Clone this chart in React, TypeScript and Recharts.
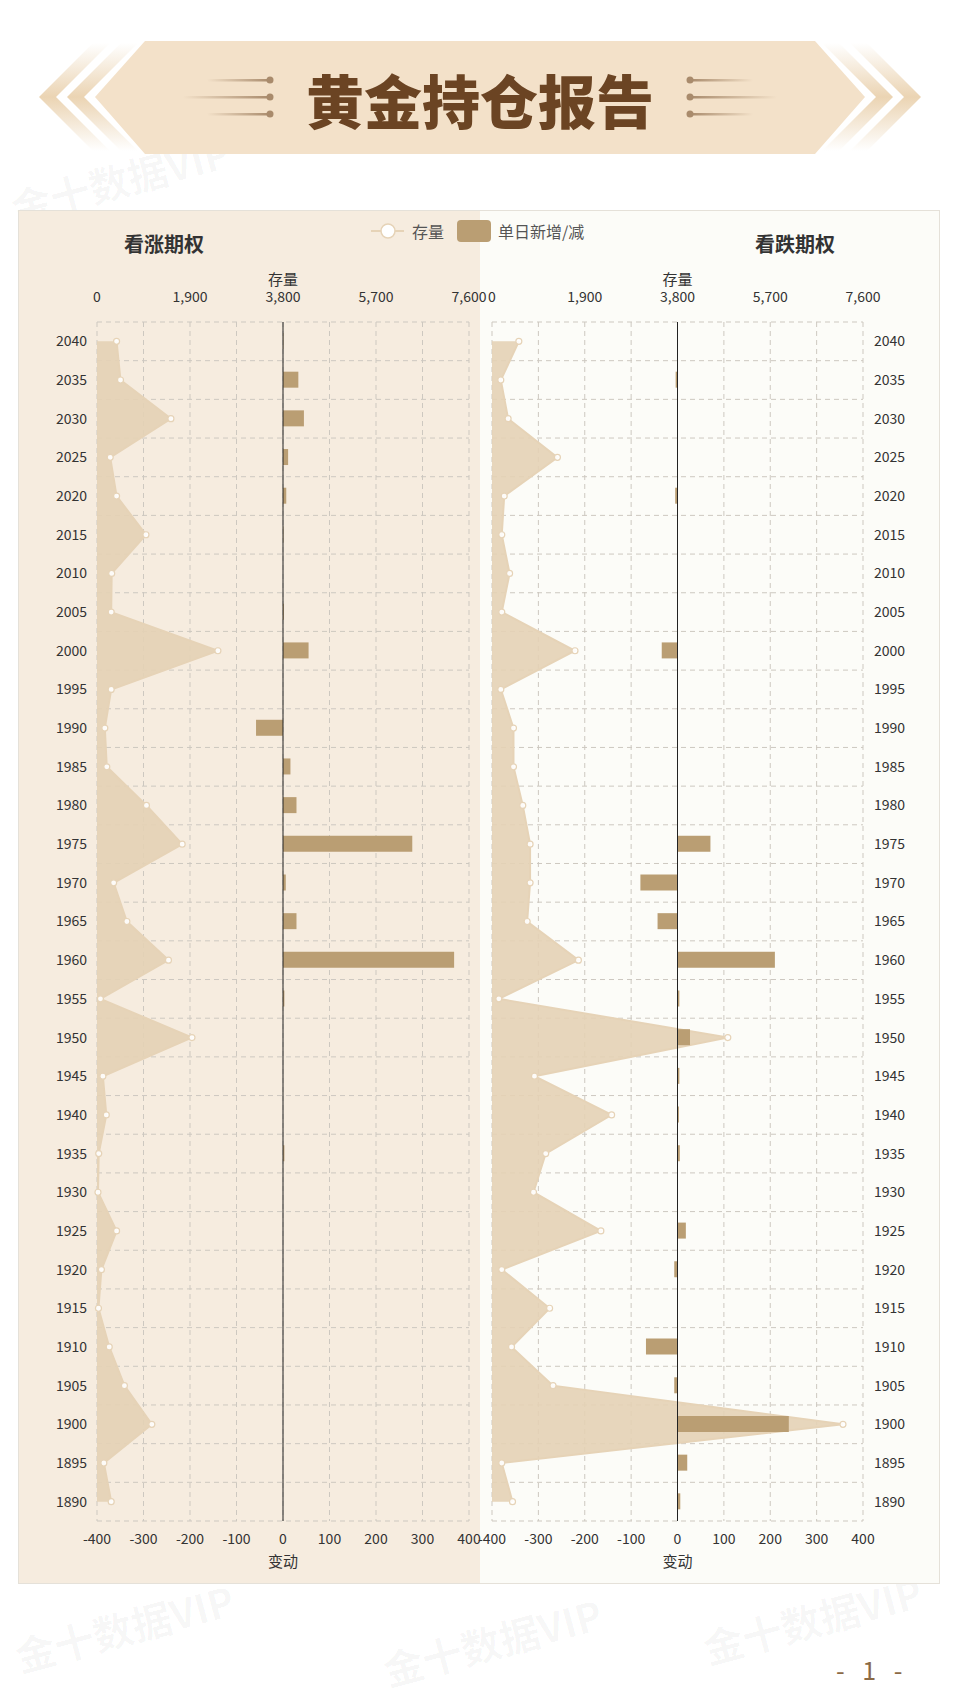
import React from 'react';
import {
  ComposedChart,
  Area,
  Bar,
  XAxis,
  YAxis,
  CartesianGrid,
  ReferenceLine,
} from 'recharts';

// categories, top to bottom
const years = [
  '2040', '2035', '2030', '2025', '2020', '2015', '2010', '2005', '2000', '1995',
  '1990', '1985', '1980', '1975', '1970', '1965', '1960', '1955', '1950', '1945',
  '1940', '1935', '1930', '1925', '1920', '1915', '1910', '1905', '1900', '1895', '1890',
];

// 看涨期权
const callStock = [
  400, 480, 1510, 270, 400, 1000, 300, 290, 2470, 290,
  160, 200, 1010, 1740, 340, 610, 1460, 70, 1940, 120,
  190, 35, 20, 400, 90, 30, 250, 560, 1120, 140, 290,
];
const callChange = [
  1, 33, 45, 11, 7, 1, 0, 2, 55, 0,
  -58, 16, 29, 278, 6, 29, 368, 3, 0, 0,
  0, 3, 0, 0, 0, 0, 0, 0, 0, 0, 0,
];

// 看跌期权
const putStock = [
  550, 180, 330, 1340, 250, 200, 360, 200, 1700, 180,
  440, 440, 630, 780, 780, 720, 1770, 140, 4830, 870,
  2450, 1100, 850, 2230, 200, 1180, 400, 1250, 7190, 200, 420,
];
const putChange = [
  0, -4, 0, 0, -5, -1, 0, 1, -34, 0,
  -1, 0, -1, 71, -80, -43, 210, 4, 27, 4,
  3, 5, 0, 18, -7, -1, -68, -7, 240, 21, 6,
];

const stockTicks = [0, 1900, 3800, 5700, 7600];
const changeTicks = [-400, -300, -200, -100, 0, 100, 200, 300, 400];

const FONT = '"Noto Sans CJK SC", "Noto Sans", sans-serif';
const BAR_COLOR = '#BA9E73';
const AREA_FILL = '#E4D1B5';
const AREA_LINE = '#E6D3B7';
const GRID = '#CDC8C0';
const TEXT = '#333';

const callData = years.map((year, i) => ({ year, stock: callStock[i], change: callChange[i] }));
const putData = years.map((year, i) => ({ year, stock: putStock[i], change: putChange[i] }));

// grid rows sit on the band edges, not on the band centres
const bandEdges = ({ offset }: any) => {
  const n = years.length;
  const out: number[] = [];
  for (let i = 0; i <= n; i++) out.push(offset.top + (offset.height * i) / n);
  return out;
};

function OptionChart({ data, side }: { data: any[]; side: 'left' | 'right' }) {
  const isLeft = side === 'left';
  return (
    <ComposedChart
      layout="vertical"
      width={isLeft ? 462 : 460}
      height={1374}
      data={data}
      margin={{ top: 52, right: isLeft ? 11 : 0, bottom: 0, left: isLeft ? 0 : 12 }}
    >
      <CartesianGrid
        xAxisId="bottom"
        stroke={GRID}
        strokeDasharray="5 4"
        horizontalCoordinatesGenerator={bandEdges}
      />
      <XAxis
        xAxisId="top"
        type="number"
        orientation="top"
        domain={[0, 7600]}
        ticks={stockTicks}
        interval={0}
        height={60}
        axisLine={false}
        tickLine={false}
        tickSize={0}
        tickMargin={20}
        tick={{ fill: TEXT, fontSize: 14 }}
        tickFormatter={(v: number) => v.toLocaleString('en-US')}
        label={{ value: '存量', position: 'insideTop', offset: 12, fill: TEXT, fontSize: 15 }}
      />
      <XAxis
        xAxisId="bottom"
        type="number"
        orientation="bottom"
        domain={[-400, 400]}
        ticks={changeTicks}
        interval={0}
        height={63}
        axisLine={false}
        tickLine={false}
        tickSize={0}
        tickMargin={13}
        tick={{ fill: TEXT, fontSize: 14 }}
        label={{ value: '变动', position: 'insideBottom', offset: 17, fill: TEXT, fontSize: 15 }}
      />
      <YAxis
        type="category"
        dataKey="year"
        orientation={isLeft ? 'left' : 'right'}
        width={isLeft ? 79 : 77}
        axisLine={false}
        tickLine={false}
        tickSize={0}
        tickMargin={isLeft ? 10 : 11}
        interval={0}
        tick={{ fill: TEXT, fontSize: 14 }}
      />
      <Area
        xAxisId="top"
        dataKey="stock"
        type="linear"
        fill={AREA_FILL}
        fillOpacity={0.9}
        stroke={AREA_LINE}
        strokeWidth={2}
        dot={{ r: 3, fill: '#fff', stroke: AREA_LINE, strokeWidth: 1.2 }}
        activeDot={false}
        isAnimationActive={false}
      />
      <Bar xAxisId="bottom" dataKey="change" fill={BAR_COLOR} barSize={16} isAnimationActive={false} />
      <ReferenceLine xAxisId="bottom" x={0} stroke="#222" strokeWidth={1} />
    </ComposedChart>
  );
}

function Header() {
  const chevron = (tip: number) =>
    `${tip},97 ${tip + 54},43 ${tip + 71},43 ${tip + 17},97 ${tip + 71},151 ${tip + 54},151`;
  const lines = (
    <g>
      <rect x={207} y={79} width={63} height={2.5} fill="url(#lineFade)" />
      <rect x={183} y={96} width={87} height={2.5} fill="url(#lineFade)" />
      <rect x={207} y={113} width={63} height={2.5} fill="url(#lineFade)" />
      <circle cx={270} cy={80} r={3.5} fill="#A98B6C" />
      <circle cx={270} cy={97} r={3.5} fill="#A98B6C" />
      <circle cx={270} cy={114} r={3.5} fill="#A98B6C" />
    </g>
  );
  const chevrons = (
    <g>
      <polygon points={chevron(39)} fill="url(#chevFade)" />
      <polygon points={chevron(67)} fill="url(#chevFade)" />
    </g>
  );
  return (
    <svg width={960} height={200} style={{ position: 'absolute', left: 0, top: 0 }}>
      <defs>
        <linearGradient id="chevFade" x1="0" y1="0" x2="0" y2="1">
          <stop offset="0" stopColor="#EBD4B3" stopOpacity="0" />
          <stop offset="0.5" stopColor="#EBD4B3" stopOpacity="1" />
          <stop offset="1" stopColor="#EBD4B3" stopOpacity="0" />
        </linearGradient>
        <linearGradient id="lineFade" x1="0" y1="0" x2="1" y2="0">
          <stop offset="0" stopColor="#A98B6C" stopOpacity="0" />
          <stop offset="1" stopColor="#A98B6C" stopOpacity="1" />
        </linearGradient>
      </defs>
      {chevrons}
      <g transform="translate(960,0) scale(-1,1)">{chevrons}</g>
      <polygon points="95,97 145,41 815,41 865,97 815,154 145,154" fill="#F3E1C9" />
      {lines}
      <g transform="translate(960,0) scale(-1,1)">{lines}</g>
      <text
        x={480}
        y={99}
        textAnchor="middle"
        dominantBaseline="central"
        fontSize={58}
        fontWeight={900}
        fill="#6B4423"
        style={{ fontFamily: FONT }}
      >
        黄金持仓报告
      </text>
    </svg>
  );
}

const watermarks = [
  { x: 8, y: 150 },
  { x: 380, y: 1612 },
  { x: 12, y: 1598 },
  { x: 700, y: 1590 },
];

export default function App() {
  return (
    <div
      style={{
        position: 'absolute',
        left: 0,
        top: 0,
        width: 960,
        height: 1706,
        background: '#fff',
        overflow: 'hidden',
        fontFamily: FONT,
      }}
    >
      <style>{'.recharts-surface { overflow: visible; }'}</style>
      {watermarks.map((w, i) => (
        <div
          key={i}
          style={{
            position: 'absolute',
            left: w.x,
            top: w.y,
            fontSize: 40,
            fontWeight: 700,
            color: 'rgba(0,0,0,0.035)',
            transform: 'rotate(-15deg)',
            whiteSpace: 'nowrap',
          }}
        >
          金十数据VIP
        </div>
      ))}
      <Header />
      <div style={{ position: 'absolute', left: 18, top: 210, width: 462, height: 1374, background: '#F6ECDF' }} />
      <div style={{ position: 'absolute', left: 480, top: 210, width: 460, height: 1374, background: '#FCFCF8' }} />
      <div style={{ position: 'absolute', left: 18, top: 210 }}>
        <OptionChart data={callData} side="left" />
      </div>
      <div style={{ position: 'absolute', left: 480, top: 210 }}>
        <OptionChart data={putData} side="right" />
      </div>
      <div
        style={{
          position: 'absolute',
          left: 18,
          top: 210,
          width: 922,
          height: 1374,
          border: '1px solid #E5E1D9',
          boxSizing: 'border-box',
          pointerEvents: 'none',
        }}
      />
      <div style={{ position: 'absolute', left: 84, top: 229, width: 160, textAlign: 'center', fontSize: 20, fontWeight: 700, color: TEXT }}>
        看涨期权
      </div>
      <div style={{ position: 'absolute', left: 715, top: 229, width: 160, textAlign: 'center', fontSize: 20, fontWeight: 700, color: TEXT }}>
        看跌期权
      </div>
      {/* legend */}
      <div style={{ position: 'absolute', left: 371, top: 219, height: 24, display: 'flex', alignItems: 'center', fontSize: 16, color: '#555' }}>
        <svg width={34} height={18} style={{ marginRight: 7 }}>
          <line x1={0} y1={9} x2={33} y2={9} stroke={AREA_LINE} strokeWidth={2} />
          <circle cx={17} cy={9} r={7} fill="#fff" stroke={AREA_LINE} strokeWidth={1.5} />
        </svg>
        <span>存量</span>
        <span style={{ display: 'inline-block', width: 34, height: 22, borderRadius: 4, background: BAR_COLOR, marginLeft: 13, marginRight: 7 }} />
        <span>单日新增/减</span>
      </div>
      <div style={{ position: 'absolute', left: 836, top: 1651, fontSize: 25, color: '#8B6A45', wordSpacing: 12, whiteSpace: 'pre' }}>
        - 1 -
      </div>
    </div>
  );
}
